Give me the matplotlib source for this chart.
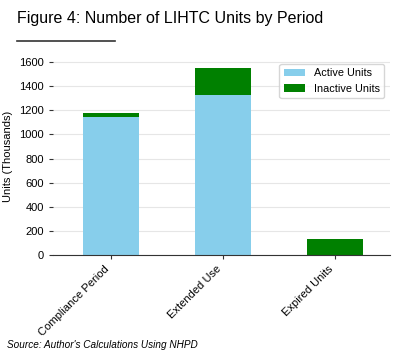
import matplotlib
matplotlib.use('Agg')
import matplotlib.pyplot as plt
import numpy as np

# Chart data (thousands of units)
periods = ['Compliance Period', 'Extended Use', 'Expired Units']
active_units = [1145, 1327, 0]
inactive_units = [32, 223, 133]

plt.rcParams['font.family'] = ['Liberation Sans', 'DejaVu Sans']

fig = plt.figure(figsize=(3.97, 3.52), dpi=100)
ax = fig.add_axes([0.1335, 0.2756, 0.8485, 0.558])

x = np.arange(len(periods))
width = 0.5
ax.bar(x, active_units, width, color='skyblue', label='Active Units', zorder=2)
ax.bar(x, inactive_units, width, bottom=active_units, color='green', label='Inactive Units', zorder=2)

ax.set_xlim(-0.52, 2.49)
ax.set_ylim(0, 1630)
ax.set_yticks(np.arange(0, 1601, 200))
ax.set_xticks(x)
ax.set_xticklabels(periods, rotation=45, ha='right', fontsize=8)
ax.tick_params(axis='y', labelsize=8, length=3, color='#333333')
ax.tick_params(axis='x', length=3, color='#333333')
ax.set_ylabel('Units (Thousands)', fontsize=8)
ax.yaxis.set_label_coords(-0.119, 0.5)
ax.yaxis.grid(True, color='#e6e6e6', linewidth=0.8, zorder=0)
ax.set_axisbelow(True)

for side in ['top', 'right', 'left']:
    ax.spines[side].set_visible(False)
ax.spines['bottom'].set_color('#333333')

leg = ax.legend(loc='upper right', fontsize=7.8, frameon=True, fancybox=True)
leg.get_frame().set_edgecolor('#cccccc')

fig.text(17 / 397, 1 - 19 / 352, 'Figure 4: Number of LIHTC Units by Period',
         fontsize=11.5, va='center', ha='left')
fig.add_artist(plt.Line2D([17 / 397, 115 / 397], [1 - 41 / 352, 1 - 41 / 352],
                          color='#333333', linewidth=1.2))
fig.text(7 / 397, 1 - 345 / 352, "Source: Author's Calculations Using NHPD",
         fontsize=7.2, style='italic', va='center', ha='left')

fig.savefig('out.png', dpi=100)
